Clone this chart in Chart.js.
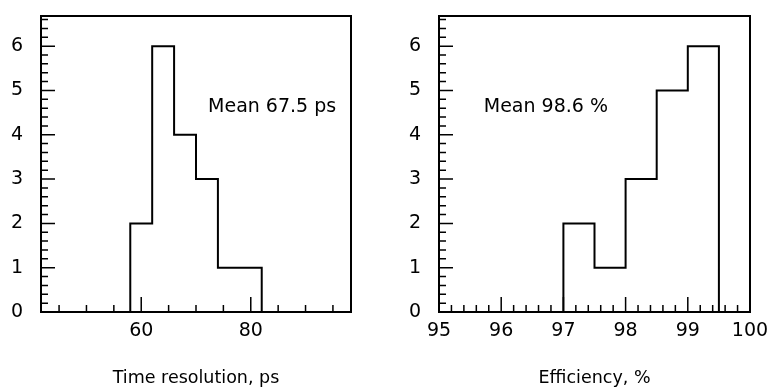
<!DOCTYPE html>
<html>
<head>
<meta charset="utf-8">
<script src="https://cdn.jsdelivr.net/npm/chart.js@4.4.1/dist/chart.umd.min.js"></script>
<style>
  html, body { margin: 0; padding: 0; background: #fff; }
  #wrap { position: relative; width: 768px; height: 390px; }
  canvas { position: absolute; top: 0; }
  #timeChart { left: 0; }
  #effChart { left: 384px; }
</style>
</head>
<body>
<div id="wrap">
  <canvas id="timeChart" width="384" height="390"></canvas>
  <canvas id="effChart" width="384" height="390"></canvas>
</div>
<script>
// histogram data (bin edges + counts)
const timeEdges = [58, 62, 66, 70, 74, 78, 82];
const timeCounts = [2, 6, 4, 3, 1, 1];
const effEdges = [97, 97.5, 98, 98.5, 99, 99.5];
const effCounts = [2, 1, 3, 5, 6];

// tick labels
const timeTicks = [60, 80];
const effTicks = [95, 96, 97, 98, 99, 100];
const countTicks = [0, 1, 2, 3, 4, 5, 6];

const FONT = { family: "DejaVu Sans", size: 19 };
const TITLE_FONT = { family: "DejaVu Sans", size: 17.5 };

// outline points for a stepped line
function histPoints(edges, counts) {
  const pts = [{ x: edges[0], y: 0 }];
  counts.forEach((c, i) => pts.push({ x: edges[i], y: c }));
  pts.push({ x: edges[edges.length - 1], y: 0 });
  return pts;
}

function range(from, to, step) {
  const out = [];
  for (let v = from; v <= to + 1e-9; v += step) out.push(+v.toFixed(4));
  return out;
}

// frame, inward ticks and the "Mean" label
const frameTicks = {
  id: "frameTicks",
  afterDraw(chart, args, o) {
    const { ctx, chartArea: a, scales: { x, y } } = chart;
    ctx.save();
    ctx.strokeStyle = "#000";
    ctx.lineWidth = 1.5;
    ctx.beginPath();
    range(o.xFrom, o.xTo, o.xMinor).forEach(v => {
      if (v < x.min || v > x.max) return;
      const px = x.getPixelForValue(v);
      const len = o.xMajorTicks.some(m => Math.abs(m - v) < 1e-6) ? 15 : 7;
      ctx.moveTo(px, a.bottom);
      ctx.lineTo(px, a.bottom - len);
    });
    range(0, y.max, 0.2).forEach(v => {
      const py = y.getPixelForValue(v);
      const len = Math.abs(v - Math.round(v)) < 1e-6 ? 14 : 7;
      ctx.moveTo(a.left, py);
      ctx.lineTo(a.left + len, py);
    });
    ctx.stroke();
    ctx.lineWidth = 2;
    ctx.strokeRect(a.left, a.top, a.right - a.left, a.bottom - a.top);
    ctx.fillStyle = "#000";
    ctx.font = `${FONT.size}px ${FONT.family}`;
    ctx.textBaseline = "middle";
    ctx.textAlign = "left";
    ctx.fillText(o.text, x.getPixelForValue(o.textX), y.getPixelForValue(o.textY));
    ctx.restore();
  }
};

function noPad(s) {
  s.paddingTop = 0;
  s.paddingBottom = 0;
  s.paddingLeft = 0;
  s.paddingRight = 0;
}

function makeHist(id, cfg) {
  return new Chart(document.getElementById(id), {
    type: "line",
    data: {
      datasets: [{
        data: histPoints(cfg.edges, cfg.counts),
        stepped: "before",
        borderColor: "#000",
        borderWidth: 2,
        pointRadius: 0,
        fill: false
      }]
    },
    options: {
      responsive: false,
      animation: false,
      devicePixelRatio: 1,
      layout: { padding: { left: 0, right: cfg.padRight, top: 16, bottom: 0 } },
      plugins: {
        legend: { display: false },
        tooltip: { enabled: false },
        frameTicks: {
          xFrom: cfg.xFrom, xTo: cfg.xTo, xMinor: cfg.xMinor,
          xMajorTicks: cfg.xTicks,
          text: cfg.text, textX: cfg.textX, textY: cfg.textY
        }
      },
      scales: {
        x: {
          type: "linear",
          min: cfg.xMin,
          max: cfg.xMax,
          afterBuildTicks: s => { s.ticks = cfg.xTicks.map(v => ({ value: v })); },
          afterFit: s => { s.height = 78; noPad(s); },
          grid: { display: false, drawTicks: false },
          border: { display: false },
          ticks: { color: "#000", font: FONT, padding: 8, maxRotation: 0 },
          title: { display: true, text: cfg.title, color: "#000", font: TITLE_FONT, padding: { top: 0, bottom: 1 } }
        },
        y: {
          min: 0,
          max: 6.68,
          afterBuildTicks: s => { s.ticks = countTicks.map(v => ({ value: v })); },
          afterFit: s => { s.width = cfg.yWidth; noPad(s); },
          grid: { display: false, drawTicks: false },
          border: { display: false },
          ticks: { color: "#000", font: FONT, padding: 18 }
        }
      }
    },
    plugins: [frameTicks]
  });
}

makeHist("timeChart", {
  edges: timeEdges, counts: timeCounts,
  xMin: 41.7, xMax: 98.3, xTicks: timeTicks,
  xFrom: 45, xTo: 95, xMinor: 5,
  yWidth: 41, padRight: 33,
  title: "Time resolution, ps",
  text: "Mean 67.5 ps", textX: 72.2, textY: 4.62
});

makeHist("effChart", {
  edges: effEdges, counts: effCounts,
  xMin: 95, xMax: 100, xTicks: effTicks,
  xFrom: 95, xTo: 100, xMinor: 0.2,
  yWidth: 55, padRight: 18,
  title: "Efficiency, %",
  text: "Mean 98.6 %", textX: 95.72, textY: 4.62
});
</script>
</body>
</html>
